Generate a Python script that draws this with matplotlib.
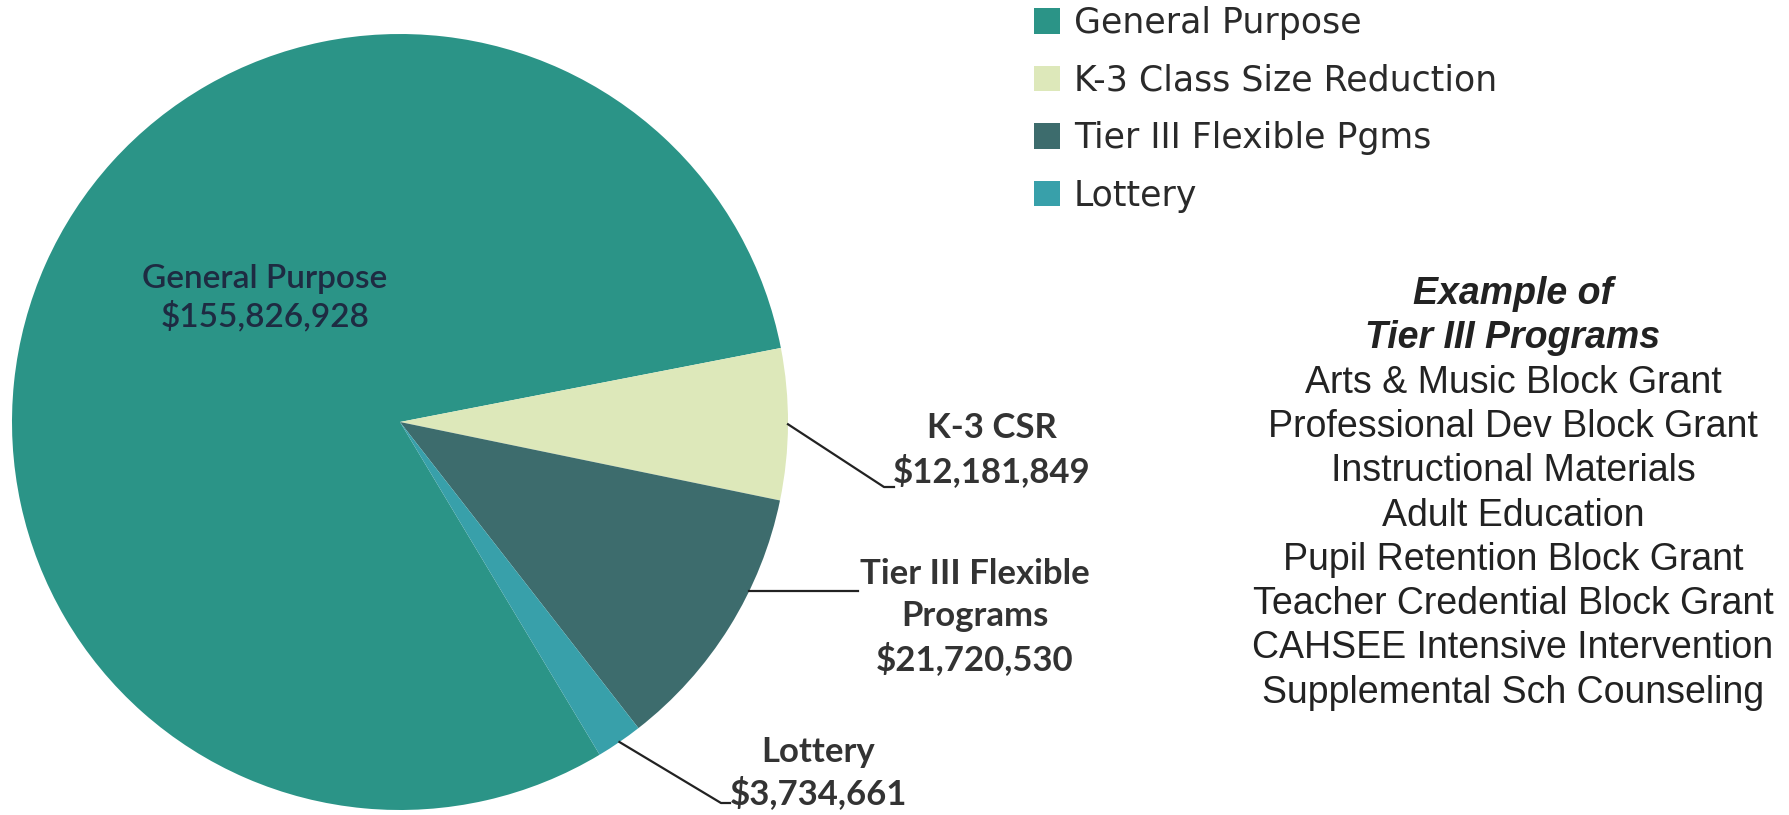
import matplotlib
matplotlib.use("Agg")
import matplotlib.pyplot as plt
import numpy as np

# ---------------- data ----------------
categories = ["General Purpose", "K-3 Class Size Reduction", "Tier III Flexible Pgms", "Lottery"]
values = [155826928, 12181849, 21720530, 3734661]
slice_labels = ["General Purpose", "K-3 CSR", "Tier III Flexible\nPrograms", "Lottery"]
colors = ["#2B9487", "#DDE8BA", "#3D6C6D", "#38A0AA"]
examples_title = ["Example of", "Tier III Programs"]
examples = [
    "Arts & Music Block Grant",
    "Professional Dev Block Grant",
    "Instructional Materials",
    "Adult Education",
    "Pupil Retention Block Grant",
    "Teacher Credential Block Grant",
    "CAHSEE Intensive Intervention",
    "Supplemental Sch Counseling",
]

W, H = 1790, 815
fig = plt.figure(figsize=(W / 100, H / 100), dpi=100)
fig.patch.set_facecolor("white")

# pie axes: centre (400, 422) px, radius 388 px
cx, cy, r = 400, 422, 388
pie_ax = fig.add_axes([(cx - r) / W, (H - cy - r) / H, 2 * r / W, 2 * r / H])
total = sum(values)
start = 11 + 360 * values[0] / total
wedges, _ = pie_ax.pie(values, colors=colors, startangle=start, counterclock=False,
                       radius=1, wedgeprops=dict(linewidth=0))
pie_ax.set_xlim(-1, 1)
pie_ax.set_ylim(-1, 1)

# overlay in pixel coordinates (y down)
ov = fig.add_axes([0, 0, 1, 1], zorder=5)
ov.set_xlim(0, W)
ov.set_ylim(H, 0)
ov.axis("off")


def edge_point(w, t=0.5):
    ang = np.deg2rad(w.theta1 + t * (w.theta2 - w.theta1))
    p = pie_ax.transData.transform((np.cos(ang), np.sin(ang)))
    return ov.transData.inverted().transform(p)


lab_font = dict(family=["Lato", "DejaVu Sans"], fontweight="bold", color="#333333", fontsize=25)
lc = "#222222"

# General Purpose label (inside)
ov.text(265, 298, f"{slice_labels[0]}\n${values[0]:,}", ha="center", va="center",
        linespacing=1.25, **{**lab_font, "color": "#1E2B42", "fontweight": "semibold",
                             "fontsize": 24})

# K-3 CSR
p = edge_point(wedges[1])
ov.plot([p[0], 884, 894], [p[1], 487, 487], color=lc, lw=1.6)
ov.text(992, 450, f"{slice_labels[1]}\n${values[1]:,}", ha="center", va="center",
        linespacing=1.38, **lab_font)

# Tier III
p = edge_point(wedges[2], 0.65)
ov.plot([p[0], 858], [p[1], p[1]], color=lc, lw=1.6)
ov.text(975, 617, f"{slice_labels[2]}\n${values[2]:,}", ha="center", va="center",
        linespacing=1.38, **lab_font)

# Lottery
p = edge_point(wedges[3])
ov.plot([p[0], 721, 730], [p[1], 803, 803], color=lc, lw=1.6)
ov.text(818, 773, f"{slice_labels[3]}\n${values[3]:,}", ha="center", va="center",
        linespacing=1.3, **lab_font)

# legend
fig.legend(wedges, categories, loc="upper left", bbox_to_anchor=(1034 / W, 1 - 6 / H),
           frameon=False, prop=dict(family=["DejaVu Sans"], size=25),
           labelcolor="#2A2A2A", handlelength=0.75, handleheight=0.75,
           handletextpad=0.4, labelspacing=0.68, borderpad=0, borderaxespad=0)

# examples block
tx = 1513
y0, dy = 294, 44.3
for i, t in enumerate(examples_title):
    ov.text(tx, y0 + i * dy, t, ha="center", va="center", fontsize=27,
            family=["Liberation Sans", "DejaVu Sans"], fontweight="bold",
            fontstyle="italic", color="#222222")
for i, t in enumerate(examples):
    ov.text(tx, y0 + (i + 2) * dy, t, ha="center", va="center", fontsize=27,
            family=["Liberation Sans", "DejaVu Sans"], color="#222222")

fig.savefig("out.png", dpi=100, facecolor="white")
